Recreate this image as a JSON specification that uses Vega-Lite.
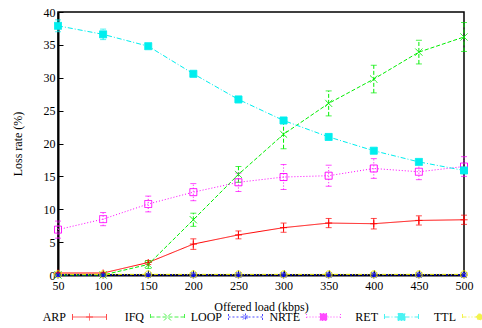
{
  "$schema": "https://vega.github.io/schema/vega-lite/v6.json",
  "width": 406,
  "height": 263,
  "autosize": {"type": "none"},
  "padding": {"left": 58, "top": 12, "right": 18, "bottom": 53},
  "background": "white",
  "config": {
    "font": "Liberation Serif",
    "view": {"stroke": "black", "strokeWidth": 1.5},
    "axis": {
      "grid": false,
      "domainColor": "black",
      "domainWidth": 2,
      "tickColor": "black",
      "tickWidth": 1,
      "tickSize": -5,
      "labelFlush": false,
      "labelOverlap": false,
      "labelFont": "Liberation Serif",
      "labelFontSize": 12,
      "labelColor": "black",
      "titleFont": "Liberation Serif",
      "titleFontSize": 12,
      "titleFontWeight": "normal",
      "titleColor": "black"
    }
  },
  "data": {
    "values": [
      {"load": 50, "series": "ARP", "rate": 0.3, "err": 0.1},
      {"load": 100, "series": "ARP", "rate": 0.3, "err": 0.1},
      {"load": 150, "series": "ARP", "rate": 1.9, "err": 0.3},
      {"load": 200, "series": "ARP", "rate": 4.7, "err": 0.8},
      {"load": 250, "series": "ARP", "rate": 6.1, "err": 0.6},
      {"load": 300, "series": "ARP", "rate": 7.2, "err": 0.7},
      {"load": 350, "series": "ARP", "rate": 7.9, "err": 0.7},
      {"load": 400, "series": "ARP", "rate": 7.8, "err": 0.8},
      {"load": 450, "series": "ARP", "rate": 8.3, "err": 0.7},
      {"load": 500, "series": "ARP", "rate": 8.4, "err": 0.7},

      {"load": 50, "series": "IFQ", "rate": 0.0, "err": 0.05},
      {"load": 100, "series": "IFQ", "rate": 0.0, "err": 0.05},
      {"load": 150, "series": "IFQ", "rate": 1.6, "err": 0.6},
      {"load": 200, "series": "IFQ", "rate": 8.4, "err": 1.0},
      {"load": 250, "series": "IFQ", "rate": 15.3, "err": 1.2},
      {"load": 300, "series": "IFQ", "rate": 21.4, "err": 2.2},
      {"load": 350, "series": "IFQ", "rate": 26.1, "err": 1.9},
      {"load": 400, "series": "IFQ", "rate": 29.8, "err": 2.1},
      {"load": 450, "series": "IFQ", "rate": 33.9, "err": 1.8},
      {"load": 500, "series": "IFQ", "rate": 36.2, "err": 2.2},

      {"load": 50, "series": "LOOP", "rate": 0.0, "err": 0.2},
      {"load": 100, "series": "LOOP", "rate": 0.0, "err": 0.2},
      {"load": 150, "series": "LOOP", "rate": 0.0, "err": 0.2},
      {"load": 200, "series": "LOOP", "rate": 0.0, "err": 0.3},
      {"load": 250, "series": "LOOP", "rate": 0.0, "err": 0.3},
      {"load": 300, "series": "LOOP", "rate": 0.0, "err": 0.3},
      {"load": 350, "series": "LOOP", "rate": 0.0, "err": 0.3},
      {"load": 400, "series": "LOOP", "rate": 0.0, "err": 0.3},
      {"load": 450, "series": "LOOP", "rate": 0.0, "err": 0.3},
      {"load": 500, "series": "LOOP", "rate": 0.0, "err": 0.3},

      {"load": 50, "series": "NRTE", "rate": 6.9, "err": 1.3},
      {"load": 100, "series": "NRTE", "rate": 8.5, "err": 1.0},
      {"load": 150, "series": "NRTE", "rate": 10.8, "err": 1.2},
      {"load": 200, "series": "NRTE", "rate": 12.6, "err": 1.3},
      {"load": 250, "series": "NRTE", "rate": 14.1, "err": 1.4},
      {"load": 300, "series": "NRTE", "rate": 14.9, "err": 1.9},
      {"load": 350, "series": "NRTE", "rate": 15.1, "err": 1.6},
      {"load": 400, "series": "NRTE", "rate": 16.2, "err": 1.5},
      {"load": 450, "series": "NRTE", "rate": 15.7, "err": 1.2},
      {"load": 500, "series": "NRTE", "rate": 16.5, "err": 1.5},

      {"load": 50, "series": "RET", "rate": 37.9, "err": 0.9},
      {"load": 100, "series": "RET", "rate": 36.6, "err": 0.8},
      {"load": 150, "series": "RET", "rate": 34.8, "err": 0.3},
      {"load": 200, "series": "RET", "rate": 30.6, "err": 0.3},
      {"load": 250, "series": "RET", "rate": 26.7, "err": 0.3},
      {"load": 300, "series": "RET", "rate": 23.5, "err": 0.3},
      {"load": 350, "series": "RET", "rate": 21.0, "err": 0.3},
      {"load": 400, "series": "RET", "rate": 18.9, "err": 0.3},
      {"load": 450, "series": "RET", "rate": 17.2, "err": 0.3},
      {"load": 500, "series": "RET", "rate": 15.9, "err": 0.3},

      {"load": 50, "series": "TTL", "rate": 0.1, "err": 0.1},
      {"load": 100, "series": "TTL", "rate": 0.1, "err": 0.1},
      {"load": 150, "series": "TTL", "rate": 0.1, "err": 0.1},
      {"load": 200, "series": "TTL", "rate": 0.1, "err": 0.1},
      {"load": 250, "series": "TTL", "rate": 0.1, "err": 0.1},
      {"load": 300, "series": "TTL", "rate": 0.1, "err": 0.1},
      {"load": 350, "series": "TTL", "rate": 0.1, "err": 0.1},
      {"load": 400, "series": "TTL", "rate": 0.1, "err": 0.1},
      {"load": 450, "series": "TTL", "rate": 0.1, "err": 0.1},
      {"load": 500, "series": "TTL", "rate": 0.1, "err": 0.1}
    ]
  },
  "encoding": {
    "x": {
      "field": "load",
      "type": "quantitative",
      "scale": {"domain": [50, 500], "nice": false, "zero": false},
      "axis": {"values": [50, 100, 150, 200, 250, 300, 350, 400, 450, 500], "title": "Offered load (kbps)", "labelPadding": 10, "titlePadding": 10}
    },
    "y": {
      "field": "rate",
      "type": "quantitative",
      "scale": {"domain": [0, 40], "nice": false},
      "axis": {"values": [0, 5, 10, 15, 20, 25, 30, 35, 40], "title": "Loss rate (%)", "labelPadding": 8, "titlePadding": 19}
    },
    "color": {
      "field": "series",
      "type": "nominal",
      "scale": {
        "domain": ["ARP", "IFQ", "LOOP", "NRTE", "RET", "TTL"],
        "range": ["#ff0000", "#00ee00", "#0000ff", "#ff00ff", "#00eeee", "#eeee00"]
      }
    },
    "strokeDash": {
      "field": "series",
      "type": "nominal",
      "scale": {
        "domain": ["ARP", "IFQ", "LOOP", "NRTE", "RET", "TTL"],
        "range": [[1, 0], [4, 2], [2, 2], [1, 2], [5, 2, 1, 2], [4, 2, 1, 2, 1, 2]]
      }
    }
  },
  "layer": [
    {
      "mark": {"type": "line", "strokeWidth": 1, "clip": false}
    },
    {
      "mark": {"type": "errorbar", "ticks": {"size": 6}, "thickness": 1, "clip": false},
      "encoding": {
        "yError": {"field": "err"}
      }
    },
    {
      "mark": {"type": "point", "filled": false, "strokeWidth": 1, "opacity": 1, "size": 49, "clip": false},
      "encoding": {
        "strokeDash": {"value": [1, 0]},
        "shape": {
          "condition": [
            {"test": "datum.series === 'ARP'", "value": "M-1,0H1M0,-1V1"},
            {"test": "datum.series === 'IFQ'", "value": "M-1,-1L1,1M-1,1L1,-1"},
            {"test": "datum.series === 'LOOP'", "value": "M-1,0H1M0,-1V1M-0.7,-0.7L0.7,0.7M-0.7,0.7L0.7,-0.7"},
            {"test": "datum.series === 'TTL'", "value": "circle"}
          ],
          "value": "M-1,-1H1V1H-1Z"
        }
      }
    },
    {
      "description": "Solid squares of the RET series",
      "transform": [{"filter": "datum.series === 'RET'"}],
      "mark": {"type": "point", "filled": true, "shape": "square", "size": 49, "opacity": 1, "clip": false},
      "encoding": {
        "color": {"value": "#00eeee"},
        "strokeDash": {"value": [1, 0]}
      }
    },
    {
      "description": "Invisible carrier of the key: its shape scale holds the line-plus-marker samples",
      "mark": {"type": "point", "opacity": 0, "strokeWidth": 1, "clip": false},
      "encoding": {
        "shape": {
          "field": "series",
          "type": "nominal",
          "scale": {
            "domain": ["ARP", "IFQ", "LOOP", "NRTE", "RET", "TTL"],
            "range": [
              "M-1,0L-1,0M1,0L1,0M-0.014,0H0.918M-0.014,-0.082V0.082M0.918,-0.082V0.082M0.356,0H0.548M0.452,-0.096V0.096",
              "M-1,0L-1,0M1,0L1,0M-0.014,0H0.918M-0.014,-0.082V0.082M0.918,-0.082V0.082M0.356,-0.096L0.548,0.096M0.356,0.096L0.548,-0.096",
              "M-1,0L-1,0M1,0L1,0M-0.014,0H0.918M-0.014,-0.082V0.082M0.918,-0.082V0.082M0.356,0H0.548M0.452,-0.096V0.096M0.384,-0.068L0.52,0.068M0.384,0.068L0.52,-0.068",
              "M-1,0L-1,0M1,0L1,0M-0.014,0H0.918M-0.014,-0.082V0.082M0.918,-0.082V0.082M0.356,-0.096H0.548V0.096H0.356Z",
              "M-1,0L-1,0M1,0L1,0M-0.014,0H0.918M-0.014,-0.082V0.082M0.918,-0.082V0.082M0.356,-0.096H0.548V0.096H0.356Z",
              "M-1,0L-1,0M1,0L1,0M-0.014,0H0.918M-0.014,-0.082V0.082M0.918,-0.082V0.082M0.534,0A0.082,0.082 0 1 1 0.37,0A0.082,0.082 0 1 1 0.534,0Z"
            ]
          },
          "legend": {
            "orient": "none",
            "legendX": -22,
            "legendY": 268,
            "direction": "horizontal",
            "columns": 6,
            "title": null,
            "padding": 0,
            "columnPadding": 0,
            "symbolSize": 5329,
            "symbolStrokeWidth": 1,
            "symbolOpacity": 1,
            "labelAlign": "right",
            "labelOffset": -44,
            "labelFont": "Liberation Serif",
            "labelFontSize": 12,
            "labelColor": "black",
            "labelLimit": 100
          }
        },
        "fill": {
          "field": "series",
          "type": "nominal",
          "scale": {
            "domain": ["ARP", "IFQ", "LOOP", "NRTE", "RET", "TTL"],
            "range": ["transparent", "transparent", "transparent", "transparent", "#00eeee", "transparent"]
          }
        }
      }
    }
  ]
}
